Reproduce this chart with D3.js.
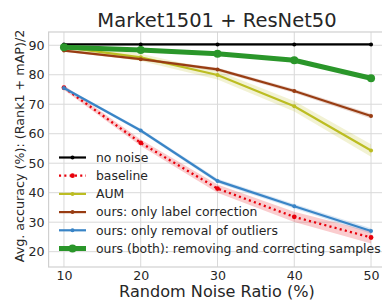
<!DOCTYPE html>
<html><head><meta charset="utf-8">
<script src="https://cdn.jsdelivr.net/npm/d3@7"></script>
<style>body{margin:0;background:#fff}svg{display:block;font-family:"DejaVu Sans",sans-serif}</style>
</head><body><svg id="c" width="382" height="300"></svg>
<script>
const xTicks = [10, 20, 30, 40, 50];
const yTicks = [20, 30, 40, 50, 60, 70, 80, 90];
const noiseRatios = [10, 20, 30, 40, 50];
const seriesNames = ["no noise", "baseline", "AUM", "ours: only label correction", "ours: only removal of outliers", "ours (both): removing and correcting samples"];
const noNoise = [90.3, 90.3, 90.3, 90.3, 90.3];
const baseline = [75.6, 56.9, 41.4, 31.8, 24.8];
const aum = [89.4, 85.9, 79.9, 69.3, 54.3];
const labelCorr = [88.2, 85.3, 81.8, 74.5, 66.0];
const outlierRem = [75.5, 61.1, 44.0, 35.4, 27.0];
const both = [89.3, 88.4, 87.1, 84.9, 78.8];
const bandWidth = [0.2, 0.8, 0.9, 0.4, 0.5, 0.3];
const bandGrowth = [0, 0.3, 0.3, 0.1, 0.1, 0.1];

const colors = ["#000000", "#e8000b", "#bcbd22", "#983c12", "#3984c6", "#2a962a"];
const widths = [2.2, 2.3, 2.2, 2.2, 2.2, 5];
const radii = [2, 2.4, 2, 2, 2, 4];
const values = [noNoise, baseline, aum, labelCorr, outlierRem, both];
const dotted = "2.1,3.2";

const svg = d3.select("#c");
const L = 48.6, R = 386.4, T = 32, B = 267;
const x = d3.scaleLinear().domain([8, 52]).range([L, R]);
const y = d3.scaleLinear().domain([14.8, 94.5]).range([B, T]);

// grid
svg.append("g").selectAll("line").data(xTicks).join("line")
  .attr("x1", d => x(d)).attr("x2", d => x(d)).attr("y1", T).attr("y2", B)
  .attr("stroke", "#d9d9d9").attr("stroke-width", 1);
svg.append("g").selectAll("line").data(yTicks).join("line")
  .attr("x1", L).attr("x2", R).attr("y1", d => y(d)).attr("y2", d => y(d))
  .attr("stroke", "#d9d9d9").attr("stroke-width", 1);
svg.append("rect").attr("x", L).attr("y", T).attr("width", R - L).attr("height", B - T)
  .attr("fill", "none").attr("stroke", "#d0d0d0").attr("stroke-width", 1.2);

// axes (tick labels only)
const xa = svg.append("g").attr("transform", `translate(0,${B})`)
  .call(d3.axisBottom(x).tickValues(xTicks).tickSize(0).tickPadding(4));
const ya = svg.append("g").attr("transform", `translate(${L},0)`)
  .call(d3.axisLeft(y).tickValues(yTicks).tickSize(0).tickPadding(4));
[xa, ya].forEach(a => {
  a.select(".domain").remove();
  a.selectAll("text").attr("font-size", 12.6).attr("fill", "#262626").attr("font-family", "DejaVu Sans");
});

// bands
values.forEach((vals, i) => {
  const area = d3.area().x((d, j) => x(noiseRatios[j]))
    .y0((d, j) => y(d - bandWidth[i] - bandGrowth[i] * j))
    .y1((d, j) => y(d + bandWidth[i] + bandGrowth[i] * j));
  svg.append("path").datum(vals).attr("d", area)
    .attr("fill", colors[i]).attr("opacity", 0.2);
});

// lines
const line = d3.line().x((d, j) => x(noiseRatios[j])).y(d => y(d));
values.forEach((vals, i) => {
  svg.append("path").datum(vals).attr("d", line).attr("fill", "none")
    .attr("stroke", colors[i]).attr("stroke-width", widths[i])
    .attr("stroke-dasharray", i === 1 ? dotted : null);
  svg.append("g").selectAll("circle").data(vals).join("circle")
    .attr("cx", (d, j) => x(noiseRatios[j])).attr("cy", d => y(d))
    .attr("r", radii[i]).attr("fill", colors[i]);
});

// legend
const lg = svg.append("g");
seriesNames.forEach((name, i) => {
  const yy = 157.5 + i * 18.2;
  lg.append("line").attr("x1", 59).attr("x2", 86).attr("y1", yy).attr("y2", yy)
    .attr("stroke", colors[i]).attr("stroke-width", widths[i])
    .attr("stroke-dasharray", i === 1 ? dotted : null);
  lg.append("circle").attr("cx", 72.5).attr("cy", yy).attr("r", radii[i]).attr("fill", colors[i]);
  lg.append("text").attr("x", 96).attr("y", yy).attr("dy", "0.35em")
    .attr("font-size", 12.4).attr("fill", "#262626").text(name);
});

// titles
svg.append("text").attr("x", 217).attr("y", 27).attr("text-anchor", "middle")
  .attr("font-size", 19.5).attr("fill", "#262626").text("Market1501 + ResNet50");
svg.append("text").attr("x", 217).attr("y", 296.5).attr("text-anchor", "middle")
  .attr("font-size", 16.1).attr("fill", "#262626").text("Random Noise Ratio (%)");
svg.append("text").attr("transform", `translate(23.5,146) rotate(-90)`)
  .attr("text-anchor", "middle").attr("font-size", 12.7).attr("fill", "#262626")
  .text("Avg. accuracy (%): (Rank1 + mAP)/2");
</script></body></html>
